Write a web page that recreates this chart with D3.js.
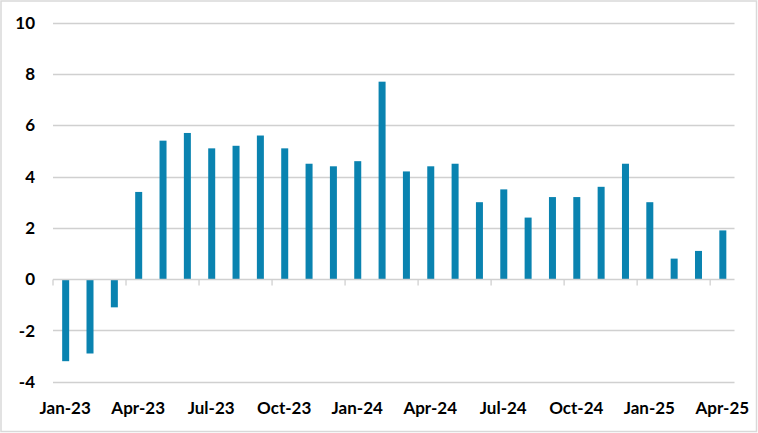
<!DOCTYPE html>
<html><head><meta charset="utf-8">
<script src="https://cdn.jsdelivr.net/npm/d3@7/dist/d3.min.js"></script>
<style>html,body{margin:0;padding:0;background:#fff;}</style>
</head><body><div id="chart"></div>
<script>
const months = ["Jan-23","Feb-23","Mar-23","Apr-23","May-23","Jun-23","Jul-23","Aug-23","Sep-23","Oct-23","Nov-23","Dec-23",
"Jan-24","Feb-24","Mar-24","Apr-24","May-24","Jun-24","Jul-24","Aug-24","Sep-24","Oct-24","Nov-24","Dec-24",
"Jan-25","Feb-25","Mar-25","Apr-25"];
const values = [-3.2,-2.9,-1.1,3.4,5.4,5.7,5.1,5.2,5.6,5.1,4.5,4.4,4.6,7.7,4.2,4.4,4.5,3.0,3.5,2.4,3.2,3.2,3.6,4.5,3.0,0.8,1.1,1.9];
const yTicks = [-4,-2,0,2,4,6,8,10];
const xLabels = ["Jan-23","Apr-23","Jul-23","Oct-23","Jan-24","Apr-24","Jul-24","Oct-24","Jan-25","Apr-25"];

const W = 758, H = 433;
const m = {left: 53, right: 23.5, top: 22.7, bottom: 51.3};
const svg = d3.select("#chart").append("svg").attr("width", W).attr("height", H);
svg.append("rect").attr("x",1).attr("y",1).attr("width",W-2.5).attr("height",H-2.5)
  .attr("fill","#fff").attr("stroke","#d9d9d9").attr("stroke-width",1.5);

const x = d3.scaleBand().domain(months).range([m.left, W - m.right]).paddingInner(0).paddingOuter(0);
const y = d3.scaleLinear().domain([-4, 10]).range([H - m.bottom, m.top]);
const font = "Lato, 'Liberation Sans', Arial, sans-serif";

// gridlines
svg.append("g").selectAll("line").data(yTicks.filter(d => d !== 0)).join("line")
  .attr("x1", m.left).attr("x2", W - m.right)
  .attr("y1", d => Math.round(y(d)) + 0.5).attr("y2", d => Math.round(y(d)) + 0.5)
  .attr("stroke", "#d0d0d0").attr("stroke-width", 1.3);

// y labels
svg.append("g").selectAll("text").data(yTicks).join("text")
  .attr("x", 35).attr("y", d => y(d)).attr("dy", "0.36em")
  .attr("text-anchor", "end").attr("font-family", font).attr("font-weight", "bold")
  .attr("font-size", 17).attr("fill", "#000").text(d => d);

// bars
const bw = 7;
svg.append("g").selectAll("rect").data(values).join("rect")
  .attr("x", (d, i) => x(months[i]) + x.bandwidth() / 2 - bw / 2 + 0.5)
  .attr("width", bw)
  .attr("y", d => y(Math.max(0, d)))
  .attr("height", d => Math.abs(y(d) - y(0)))
  .attr("fill", "#0a83b0");

// zero axis
const y0 = Math.round(y(0)) + 0.5;
svg.append("line").attr("x1", m.left).attr("x2", W - m.right).attr("y1", y0).attr("y2", y0)
  .attr("stroke", "#d0d0d0").attr("stroke-width", 1.3);
const tickIdx = d3.range(0, months.length + 1, 3);
svg.append("g").selectAll("line").data(tickIdx).join("line")
  .attr("x1", i => i < months.length ? x(months[i]) : W - m.right)
  .attr("x2", i => i < months.length ? x(months[i]) : W - m.right)
  .attr("y1", y0).attr("y2", y0 + 6)
  .attr("stroke", "#d0d0d0").attr("stroke-width", 1.3);

// x labels
svg.append("g").selectAll("text").data(xLabels).join("text")
  .attr("x", d => x(d) + x.bandwidth() / 2).attr("y", 408).attr("dy", "0.36em")
  .attr("text-anchor", "middle").attr("font-family", font).attr("font-weight", "bold")
  .attr("font-size", 17).attr("fill", "#000").text(d => d);
</script></body></html>
